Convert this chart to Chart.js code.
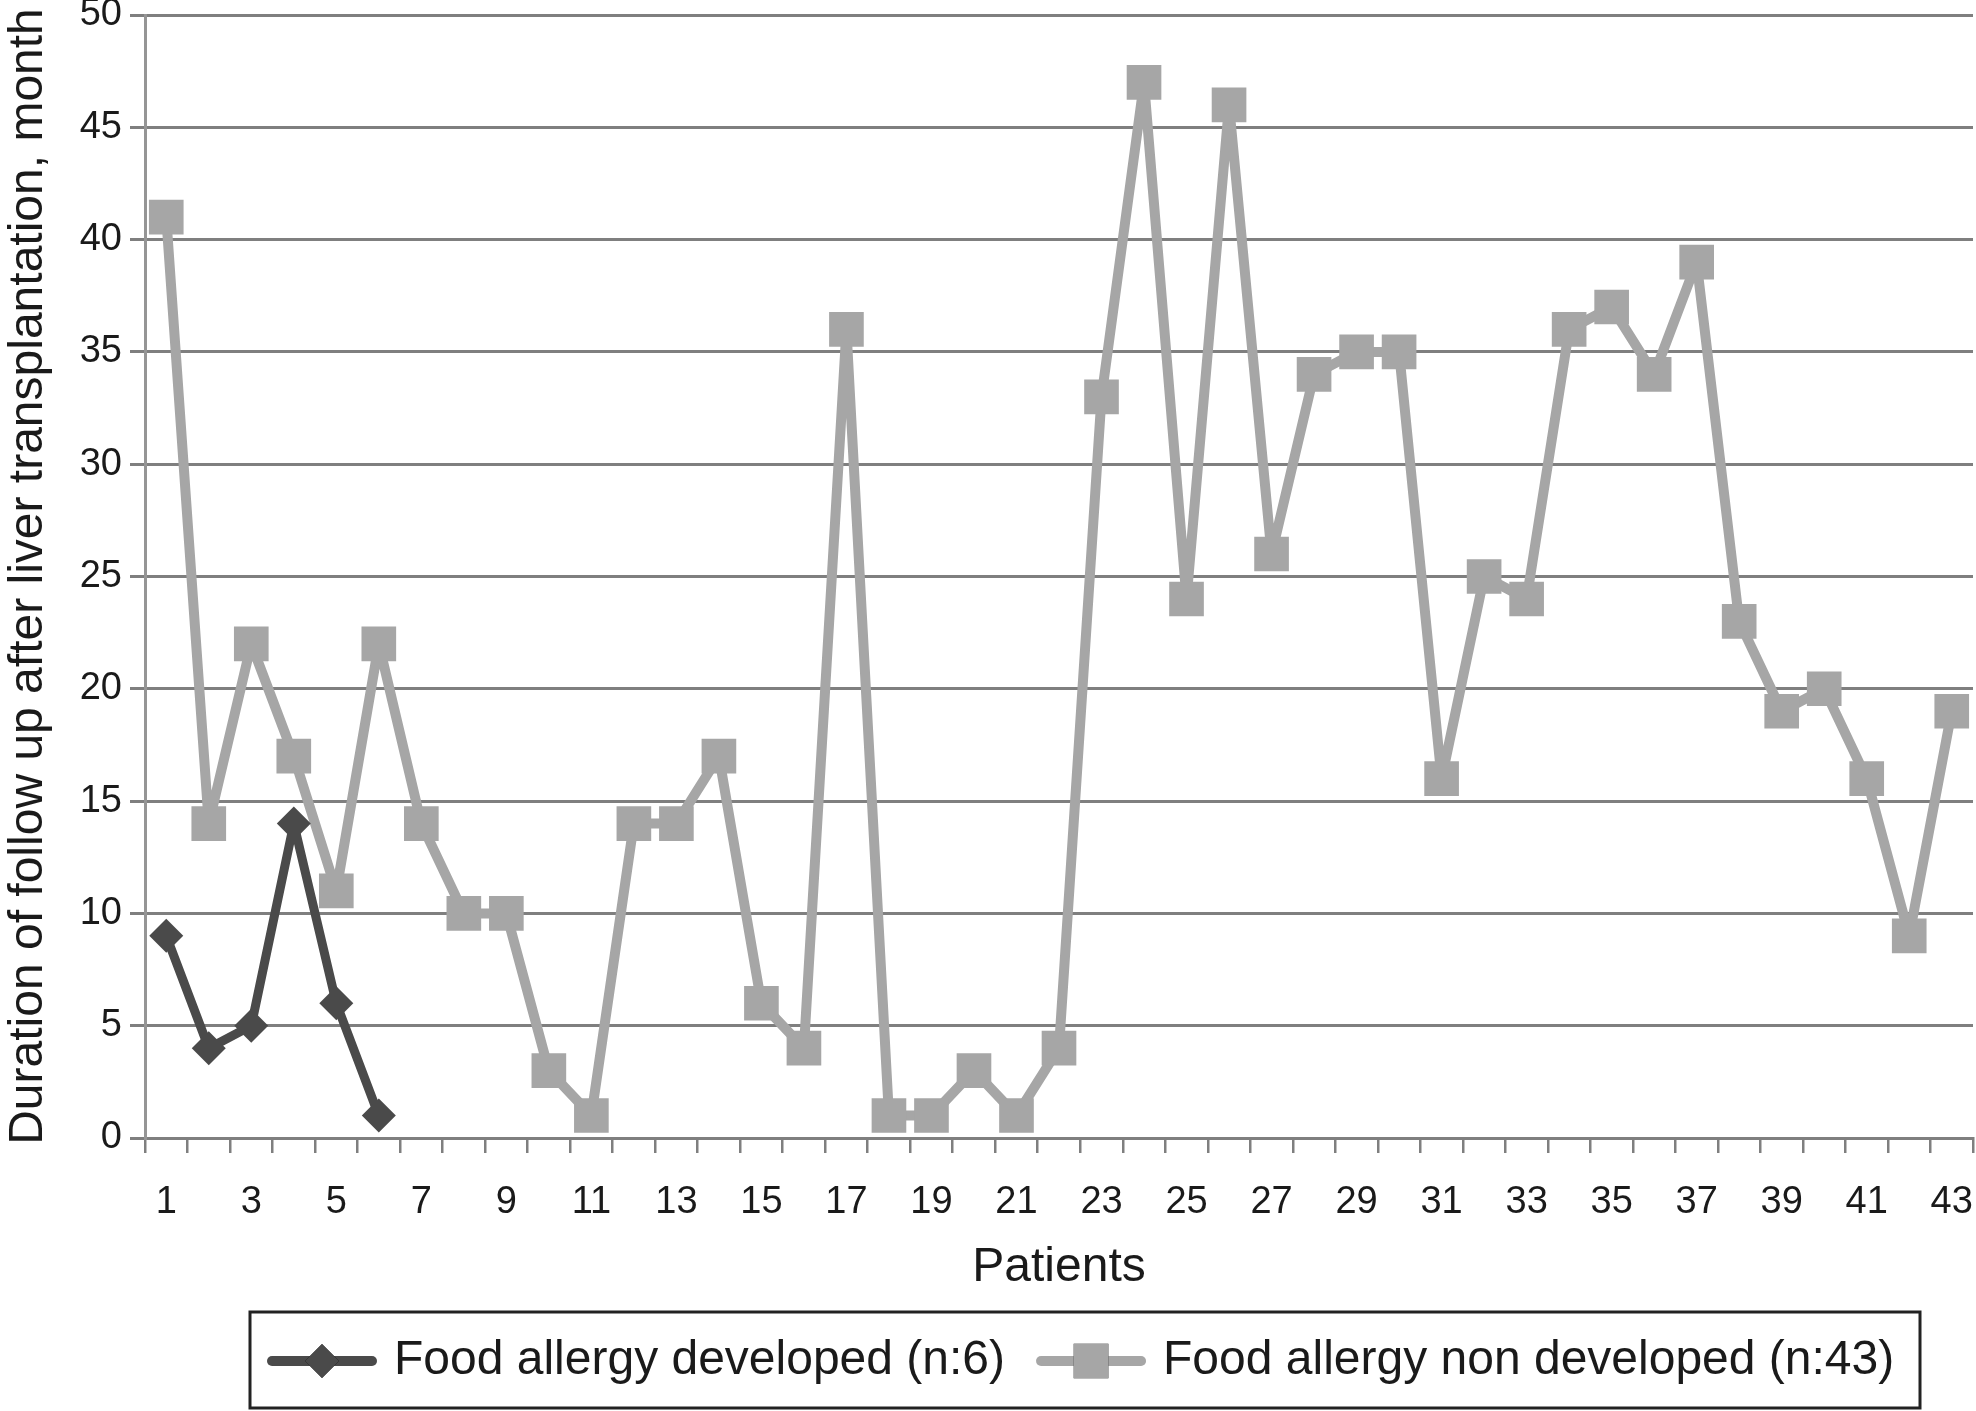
<!DOCTYPE html>
<html>
<head>
<meta charset="utf-8">
<script src="https://cdn.jsdelivr.net/npm/chart.js@4.4.1/dist/chart.umd.min.js"></script>
<style>
  html, body { margin: 0; padding: 0; background: #fff; }
  #wrap { width: 1976px; height: 1411px; }
</style>
</head>
<body>
<div id="wrap"><canvas id="myChart" width="1976" height="1411"></canvas></div>
<script>
// patients 1..43
var patients = [];
for (var i = 1; i <= 43; i++) patients.push(String(i));

var developed = [9, 4, 5, 14, 6, 1];
var nonDeveloped = [41, 14, 22, 17, 11, 22, 14, 10, 10, 3, 1, 14, 14, 17, 6, 4, 36, 1, 1, 3,
                    1, 4, 33, 47, 24, 46, 26, 34, 35, 35, 16, 25, 24, 36, 37, 34, 39, 23, 19, 20,
                    16, 9, 19];
var yTicks = [0, 5, 10, 15, 20, 25, 30, 35, 40, 45, 50];

var seriesNames = ['Food allergy developed (n:6)', 'Food allergy non developed (n:43)'];
var darkGrey = '#4a4a4a';
var lightGrey = '#a6a6a6';
var gridGrey = '#7f7f7f';
var FONT = '"Liberation Sans", Arial, Helvetica, sans-serif';

// legend drawn like the excel one: a line with the marker in the middle, inside a box
var boxLegend = {
    id: 'boxLegend',
    afterDraw: function (chart) {
        var ctx = chart.ctx;
        var top = 1312, bottom = 1408, left = 250, right = 1920;
        var cy = (top + bottom) / 2 + 1;
        ctx.save();
        ctx.lineWidth = 3;
        ctx.strokeStyle = '#222';
        ctx.strokeRect(left, top, right - left, bottom - top);
        ctx.font = '48px ' + FONT;
        ctx.textBaseline = 'middle';
        var x = 272;
        chart.data.datasets.forEach(function (ds) {
            ctx.strokeStyle = ds.borderColor;
            ctx.lineWidth = 10;
            ctx.lineCap = 'round';
            ctx.beginPath();
            ctx.moveTo(x, cy);
            ctx.lineTo(x + 100, cy);
            ctx.stroke();
            Chart.helpers.drawPoint(ctx, {
                pointStyle: ds.pointStyle,
                radius: ds.pointRadius,
                borderWidth: 0,
                rotation: 0
            }, x + 50, cy);
            ctx.fillStyle = ds.pointBackgroundColor;
            ctx.fill();
            ctx.fillStyle = '#1a1a1a';
            ctx.fillText(ds.label, x + 122, cy);
            x = x + 122 + ctx.measureText(ds.label).width + 36;
        });
        ctx.restore();
    }
};

var myChart = new Chart(document.getElementById('myChart'), {
    type: 'line',
    data: {
        labels: patients,
        datasets: [{
            label: seriesNames[0],
            data: developed,
            borderColor: darkGrey,
            backgroundColor: darkGrey,
            pointBackgroundColor: darkGrey,
            pointStyle: 'rectRot',
            pointRadius: 17,
            pointHoverRadius: 17,
            pointBorderWidth: 0,
            borderWidth: 9,
            borderJoinStyle: 'round',
            borderCapStyle: 'round',
            tension: 0
        }, {
            label: seriesNames[1],
            data: nonDeveloped,
            borderColor: lightGrey,
            backgroundColor: lightGrey,
            pointBackgroundColor: lightGrey,
            pointStyle: 'rect',
            pointRadius: 24.5,
            pointHoverRadius: 24.5,
            pointBorderWidth: 0,
            borderWidth: 10,
            borderJoinStyle: 'round',
            borderCapStyle: 'round',
            tension: 0
        }]
    },
    options: {
        responsive: false,
        animation: false,
        devicePixelRatio: 1,
        layout: { autoPadding: false, padding: { top: 15, right: 3, left: 0, bottom: 0 } },
        plugins: {
            legend: { display: false },
            tooltip: { enabled: false }
        },
        scales: {
            x: {
                offset: true,
                grid: {
                    offset: true,
                    drawOnChartArea: false,
                    color: gridGrey,
                    lineWidth: 2.5,
                    tickLength: 15
                },
                border: { color: gridGrey, width: 3 },
                ticks: {
                    autoSkip: false,
                    maxRotation: 0,
                    padding: 27,
                    color: '#1a1a1a',
                    font: { family: FONT, size: 38 },
                    callback: function (val, idx) {
                        return idx % 2 === 0 ? this.getLabelForValue(val) : '';
                    }
                },
                title: {
                    display: true,
                    text: 'Patients',
                    color: '#1a1a1a',
                    font: { family: FONT, size: 48 },
                    padding: { top: 0, bottom: 114 }
                },
                afterFit: function (s) {
                    s.height = 273;
                    s.paddingLeft = 0;
                    s.paddingRight = 0;
                }
            },
            y: {
                min: 0,
                max: 50,
                afterBuildTicks: function (s) {
                    s.ticks = yTicks.map(function (v) { return { value: v }; });
                },
                grid: {
                    color: gridGrey,
                    lineWidth: 3,
                    tickLength: 15
                },
                border: { color: '#959595', width: 3 },
                ticks: {
                    padding: 8,
                    color: '#1a1a1a',
                    font: { family: FONT, size: 38, lineHeight: 0.7 }
                },
                title: {
                    display: true,
                    text: 'Duration of follow up after liver transplantation, month',
                    color: '#1a1a1a',
                    font: { family: FONT, size: 48 },
                    padding: { top: 0, bottom: 0 }
                },
                afterFit: function (s) {
                    s.width = 145;
                    s.paddingTop = 0;
                    s.paddingBottom = 0;
                }
            }
        }
    },
    plugins: [boxLegend]
});
</script>
</body>
</html>
